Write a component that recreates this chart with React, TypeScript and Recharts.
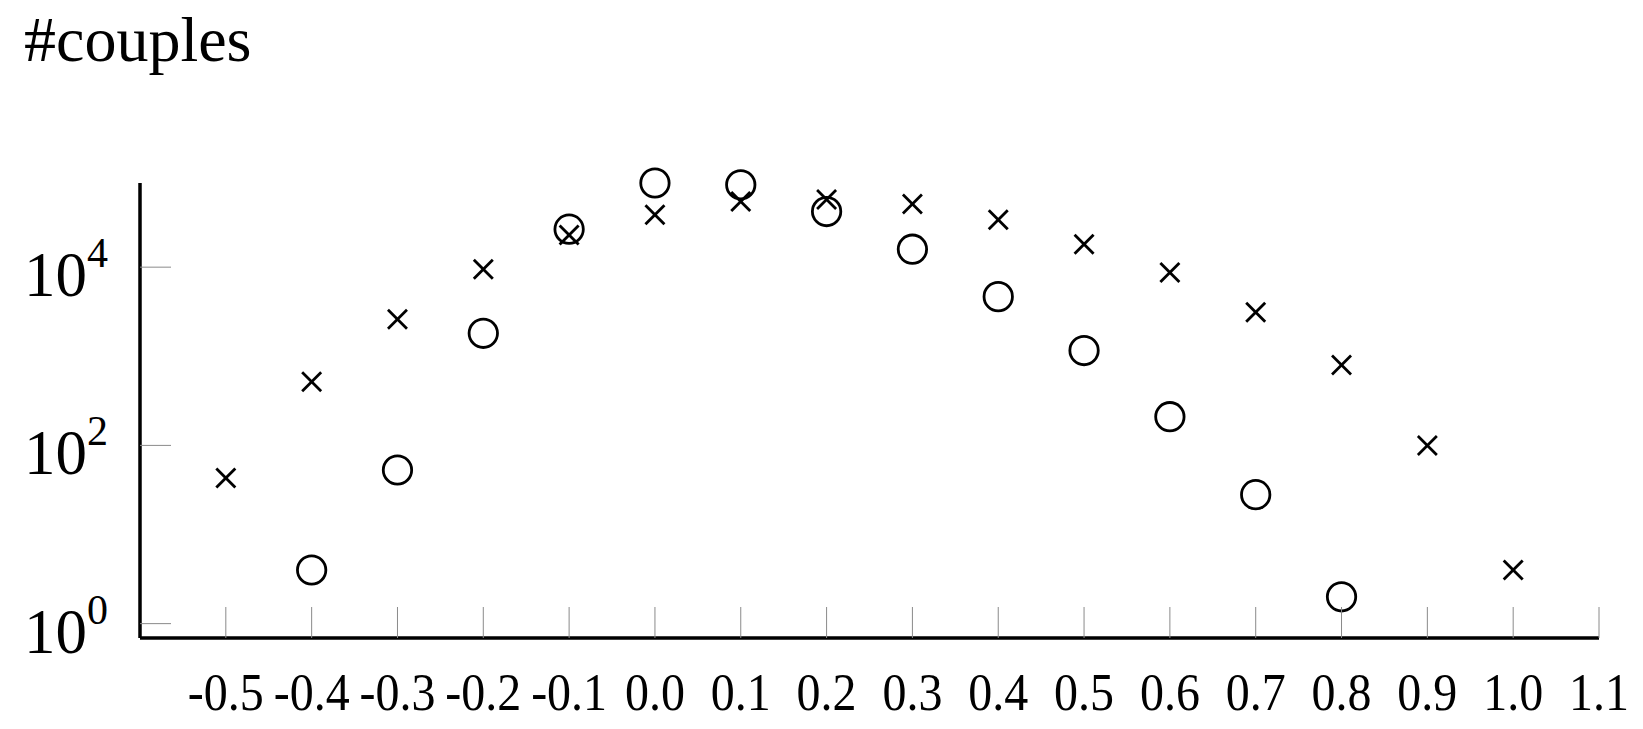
import { ScatterChart, Scatter, XAxis, YAxis } from 'recharts';

// x positions shared by both series
const xCross = [-0.5, -0.4, -0.3, -0.2, -0.1, 0.0, 0.1, 0.2, 0.3, 0.4, 0.5, 0.6, 0.7, 0.8, 0.9, 1.0];
const yCross = [43, 518, 2600, 9500, 23000, 38700, 54600, 57500, 51000, 34000, 18100, 8700, 3120, 800, 100, 4];

const xCircle = [-0.4, -0.3, -0.2, -0.1, 0.0, 0.1, 0.2, 0.3, 0.4, 0.5, 0.6, 0.7, 0.8];
const yCircle = [4, 53, 1810, 26700, 88000, 84000, 42100, 15900, 4670, 1160, 210, 28, 2];

const xTicks = [-0.5, -0.4, -0.3, -0.2, -0.1, 0.0, 0.1, 0.2, 0.3, 0.4, 0.5, 0.6, 0.7, 0.8, 0.9, 1.0, 1.1];
const yTicks = [1, 100, 10000];

const crossData = xCross.map((x, i) => ({ x, y: yCross[i] }));
const circleData = xCircle.map((x, i) => ({ x, y: yCircle[i] }));

const SERIF = '"Liberation Serif", "Times New Roman", serif';
const TICK_GRAY = '#8a8a8a';

const CrossShape = (props: any) => {
  const { cx, cy } = props;
  const s = 9.5;
  return (
    <g stroke="#000" strokeWidth={2.8}>
      <line x1={cx - s} y1={cy - s} x2={cx + s} y2={cy + s} />
      <line x1={cx - s} y1={cy + s} x2={cx + s} y2={cy - s} />
    </g>
  );
};

const CircleShape = (props: any) => {
  const { cx, cy } = props;
  return <circle cx={cx} cy={cy} r={14.2} fill="none" stroke="#000" strokeWidth={2.8} />;
};

const XTick = ({ x, y, payload }: any) => (
  <g>
    <line x1={x} y1={y} x2={x} y2={y - 31} stroke={TICK_GRAY} strokeWidth={1} />
    <text
      transform={`translate(${x},${y + 72}) scale(1,1.12)`}
      textAnchor="middle"
      fontFamily={SERIF}
      fontSize={48}
      fill="#000"
    >
      {payload.value.toFixed(1)}
    </text>
  </g>
);

const YTick = ({ x, y, payload }: any) => {
  const exp = Math.round(Math.log10(payload.value));
  return (
    <g>
      <line x1={x} y1={y} x2={x + 31} y2={y} stroke={TICK_GRAY} strokeWidth={1} />
      <text x={x - 32} y={y + 29} textAnchor="end" fontFamily={SERIF} fontSize={63} fill="#000">
        10
        <tspan fontSize={42} dy={-29}>{exp}</tspan>
      </text>
    </g>
  );
};

export default function App() {
  return (
    <div style={{ position: 'absolute', left: 0, top: 0, width: 1643, height: 729, background: '#fff' }}>
      <svg width={1643} height={100} style={{ position: 'absolute', left: 0, top: 0 }}>
        <text x={24} y={61} fontFamily={SERIF} fontSize={64} fill="#000">#couples</text>
      </svg>
      <ScatterChart width={1643} height={729} margin={{ top: 183, right: 44, bottom: 0, left: 0 }}>
        <XAxis
          type="number"
          dataKey="x"
          domain={[-0.6, 1.1]}
          ticks={xTicks}
          interval={0}
          height={91}
          tickSize={0}
          tickMargin={0}
          tickLine={false}
          axisLine={{ stroke: '#000', strokeWidth: 3.5 }}
          tick={<XTick />}
        />
        <YAxis
          type="number"
          dataKey="y"
          scale="log"
          domain={[0.69, 88000]}
          ticks={yTicks}
          interval={0}
          width={140}
          tickSize={0}
          tickMargin={0}
          tickLine={false}
          axisLine={{ stroke: '#000', strokeWidth: 3.5 }}
          tick={<YTick />}
        />
        <Scatter data={crossData} shape={<CrossShape />} isAnimationActive={false} />
        <Scatter data={circleData} shape={<CircleShape />} isAnimationActive={false} />
      </ScatterChart>
    </div>
  );
}
